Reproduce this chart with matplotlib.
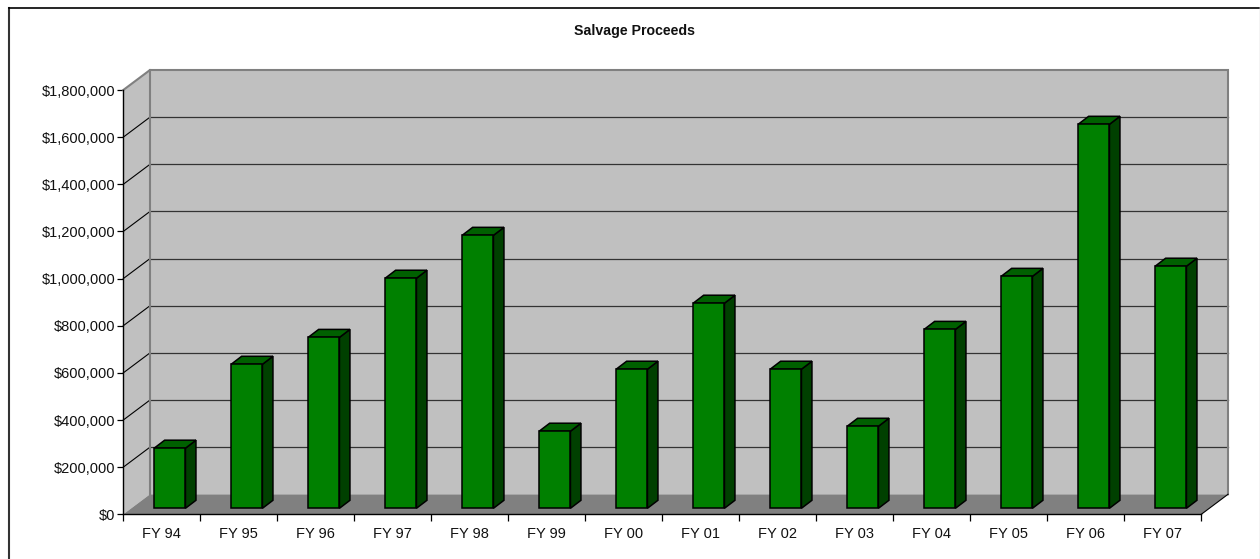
import matplotlib
matplotlib.use('Agg')
import matplotlib.pyplot as plt
from matplotlib.lines import Line2D
from matplotlib.patches import Polygon

years = ['FY 94', 'FY 95', 'FY 96', 'FY 97', 'FY 98', 'FY 99', 'FY 00',
         'FY 01', 'FY 02', 'FY 03', 'FY 04', 'FY 05', 'FY 06', 'FY 07']
proceeds = [255000, 611000, 725000, 976000, 1158000, 327000, 590000,
            870000, 590000, 348000, 759000, 984000, 1629000, 1027000]
yticks = [0, 200000, 400000, 600000, 800000, 1000000, 1200000, 1400000, 1600000, 1800000]

plt.rcParams['font.family'] = ['Liberation Sans', 'DejaVu Sans']

W, H = 1260, 559
fig = plt.figure(figsize=(W / 100, H / 100), dpi=100)
# front plane of the fake 3d box, pixels
left, right, top, bottom = 123.3, 1201.3, 90, 514.3
ax = fig.add_axes([left / W, 1 - bottom / H, (right - left) / W, (bottom - top) / H])
ymax = 1800000
ax.set_xlim(0, len(years))
ax.set_ylim(0, ymax)

px_x = len(years) / (right - left)
px_y = ymax / (bottom - top)
back_x, back_y = 26.7 * px_x, 20 * px_y
n = len(years)


def poly(pts, face, edge='none', lw=0, z=1):
    ax.add_patch(Polygon(pts, closed=True, facecolor=face, edgecolor=edge, linewidth=lw,
                         zorder=z, clip_on=False, joinstyle='miter'))


# walls and floor
poly([(0, 0), (back_x, back_y), (back_x, ymax + back_y), (0, ymax)], '#C0C0C0')
poly([(back_x, back_y), (n + back_x, back_y), (n + back_x, ymax + back_y), (back_x, ymax + back_y)], '#C0C0C0')
poly([(0, 0), (n, 0), (n + back_x, back_y), (back_x, back_y)], '#808080')

# gridlines
for t in yticks[1:-1]:
    ax.plot([0, back_x], [t, t + back_y], color='#000000', lw=0.8, zorder=2, clip_on=False)
    ax.plot([back_x, n + back_x], [t + back_y, t + back_y], color='#333333', lw=0.9, zorder=2, clip_on=False)

# wall edges
ax.plot([0, back_x, n + back_x, n + back_x], [ymax, ymax + back_y, ymax + back_y, back_y],
        color='#808080', lw=1.5, zorder=2, clip_on=False, solid_joinstyle='miter')
ax.plot([back_x, back_x], [back_y, ymax + back_y], color='#808080', lw=1.5, zorder=2, clip_on=False)
ax.plot([n, n + back_x], [0, back_y], color='#000000', lw=0.8, zorder=2, clip_on=False)

# bars
bar_w = 31.3 * px_x
shift_x, shift_y = 8 * px_x, 6 * px_y
depth_x, depth_y = 10.5 * px_x, 8 * px_y
for i, v in enumerate(proceeds):
    x0 = i + 0.5 - bar_w / 2 + shift_x
    x1 = x0 + bar_w
    y0 = shift_y
    y1 = v + shift_y
    poly([(x1, y0), (x1 + depth_x, y0 + depth_y), (x1 + depth_x, y1 + depth_y), (x1, y1)],
         '#004000', 'black', 1.1, 3)
    poly([(x0, y1), (x1, y1), (x1 + depth_x, y1 + depth_y), (x0 + depth_x, y1 + depth_y)],
         '#006000', 'black', 1.1, 3)
    poly([(x0, y0), (x1, y0), (x1, y1), (x0, y1)], '#008000', 'black', 1.1, 4)

# axes
for s in ['top', 'right']:
    ax.spines[s].set_visible(False)
for s in ['left', 'bottom']:
    ax.spines[s].set_linewidth(1)
    ax.spines[s].set_zorder(5)
ax.patch.set_visible(False)
ax.set_yticks(yticks)
ax.set_yticklabels(['${:,}'.format(t) for t in yticks], fontsize=10.5, color='#111111')
ax.set_xticks(range(n + 1))
ax.set_xticklabels([])
ax.set_xticks([i + 0.5 for i in range(n)], minor=True)
ax.set_xticklabels(years, minor=True, fontsize=10.5, color='#111111')
ax.tick_params(axis='x', which='major', length=5, width=0.9)
ax.tick_params(axis='x', which='minor', length=0, pad=9.5)
ax.tick_params(axis='y', length=4, width=0.9, pad=1.5)

fig.text(634.5 / W, 1 - 31.5 / H, 'Salvage Proceeds', fontsize=10.2, fontweight='bold',
         ha='center', va='center', color='#111111')

# chart border
fig.add_artist(Line2D([9 / W, 9 / W], [0, 1 - 7.5 / H], color='#333333', lw=1.5))
fig.add_artist(Line2D([8.5 / W, 1259 / W], [1 - 7.5 / H, 1 - 7.5 / H], color='#000000', lw=1.2))
fig.add_artist(Line2D([1259.5 / W, 1259.5 / W], [0, 1 - 7 / H], color='#C8C8C8', lw=1))

fig.savefig('out.png', dpi=100)
